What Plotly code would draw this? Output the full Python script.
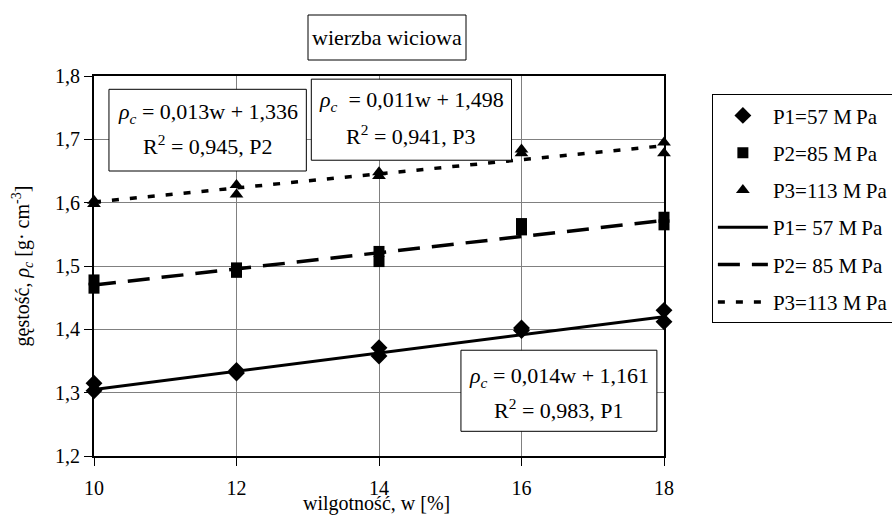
import plotly.graph_objects as go

# ---- data ----
w = [10, 10, 12, 12, 14, 14, 16, 16, 18, 18]
p1 = [1.315, 1.303, 1.335, 1.331, 1.371, 1.358, 1.402, 1.398, 1.430, 1.412]
p2 = [1.478, 1.465, 1.497, 1.490, 1.523, 1.507, 1.567, 1.557, 1.577, 1.565]
p3 = [1.603, 1.598, 1.628, 1.613, 1.648, 1.642, 1.684, 1.678, 1.695, 1.678]

trend_w = [10, 18]
p1_trend = [1.305, 1.420]
p2_trend = [1.470, 1.572]
p3_trend = [1.601, 1.690]

marker_names = ["P1=57 M\u2009Pa", "P2=85 M\u2009Pa", "P3=113 M\u2009Pa"]
line_names = ["P1= 57 M\u2009Pa", "P2= 85 M\u2009Pa", "P3=113 M\u2009Pa"]

eq_lines = [
    ("<i>ρ</i><sub><i>c</i></sub> = 0,013w + 1,336", "R<sup>2</sup> = 0,945, P2"),
    ("<i>ρ</i><sub><i>c</i></sub>  = 0,011w + 1,498", "R<sup>2</sup> = 0,941, P3"),
    ("<i>ρ</i><sub><i>c</i></sub> = 0,014w + 1,161", "R<sup>2</sup> = 0,983, P1"),
]

FONT = "Liberation Serif, Times New Roman, serif"

fig = go.Figure()

for i, (ys, sym, sz) in enumerate(zip([p1, p2, p3], ["diamond", "square", "triangle-up"], [13, 11, 12])):
    fig.add_trace(go.Scatter(
        x=w, y=ys, mode="markers", name=marker_names[i],
        legendgroup=f"m{i}", cliponaxis=False,
        marker=dict(symbol=sym, size=sz, color="black"),
    ))

for i, (ys, dash, lw) in enumerate(zip([p1_trend, p2_trend, p3_trend],
                                        ["solid", "22px,12px", "7px,11px"],
                                        [3, 3.5, 3.5])):
    fig.add_trace(go.Scatter(
        x=trend_w, y=ys, mode="lines", name=line_names[i],
        legendgroup=f"l{i}",
        line=dict(color="black", width=lw, dash=dash),
    ))

# equation boxes: (x0, x1, y0, y1, text centre x, line1 y, line2 y)
boxes = [
    (10.21, 12.98, 1.650, 1.779, 11.60, 1.742, 1.691),
    (13.05, 15.86, 1.667, 1.795, 14.45, 1.760, 1.707),
    (15.15, 17.90, 1.239, 1.367, 16.53, 1.325, 1.275),
]
ann_font = dict(family=FONT, size=22, color="black")
for (x0, x1, y0, y1, xc, yl1, yl2), (t1, t2) in zip(boxes, eq_lines):
    fig.add_shape(type="rect", xref="x", yref="y", x0=x0, x1=x1, y0=y0, y1=y1,
                  line=dict(color="black", width=1), fillcolor="white", layer="above")
    fig.add_annotation(x=xc, y=yl1, xref="x", yref="y", text=t1, showarrow=False,
                       font=ann_font, xanchor="center", yanchor="middle")
    fig.add_annotation(x=xc, y=yl2, xref="x", yref="y", text=t2, showarrow=False,
                       font=ann_font, xanchor="center", yanchor="middle")

# title box
fig.add_shape(type="rect", xref="paper", yref="paper",
              x0=(308 - 94) / 570, x1=(466 - 94) / 570,
              y0=(456 - 60) / 380, y1=(456 - 15) / 380,
              line=dict(color="black", width=1), fillcolor="white")
fig.add_annotation(x=(387 - 94) / 570, y=(456 - 37) / 380, xref="paper", yref="paper",
                   text="wierzba wiciowa", showarrow=False,
                   font=dict(family=FONT, size=22, color="black"),
                   xanchor="center", yanchor="middle")

# x axis title (sits close to the tick labels, as in the reference)
fig.add_annotation(x=13.97, y=(456 - 503) / 380, xref="x", yref="paper",
                   text="wilgotność, w [%]", showarrow=False,
                   font=dict(family=FONT, size=20, color="black"),
                   xanchor="center", yanchor="middle")

fig.update_layout(
    width=892, height=516,
    margin=dict(l=94, r=228, t=76, b=60, autoexpand=False),
    paper_bgcolor="white", plot_bgcolor="white",
    separators=", ",
    font=dict(family=FONT, size=20, color="black"),
    showlegend=True,
    legend=dict(x=1.084, y=0.952, xanchor="left", yanchor="top",
                bordercolor="black", borderwidth=1, bgcolor="white",
                font=dict(family=FONT, size=21, color="black"),
                tracegroupgap=7, itemwidth=50),
)

fig.update_xaxes(range=[10, 18], dtick=2, tick0=10,
                 showgrid=True, gridcolor="#808080", gridwidth=1,
                 showline=True, linecolor="black", linewidth=2, mirror=True,
                 ticks="outside", ticklen=8, tickcolor="black",
                 ticklabelstandoff=5,
                 tickfont=dict(family=FONT, size=20),
                 zeroline=False)
fig.update_yaxes(range=[1.2, 1.8], dtick=0.1, tick0=1.2, tickformat=".1f",
                 showgrid=True, gridcolor="#808080", gridwidth=1,
                 showline=True, linecolor="black", linewidth=2, mirror=True,
                 ticks="outside", ticklen=8, tickcolor="black",
                 tickfont=dict(family=FONT, size=20),
                 title=dict(text="gęstość, <i>ρ<sub>c</sub></i> [g· cm<sup>-3</sup>]",
                            standoff=20, font=dict(family=FONT, size=20)),
                 zeroline=False)

fig.write_html("out.html")
